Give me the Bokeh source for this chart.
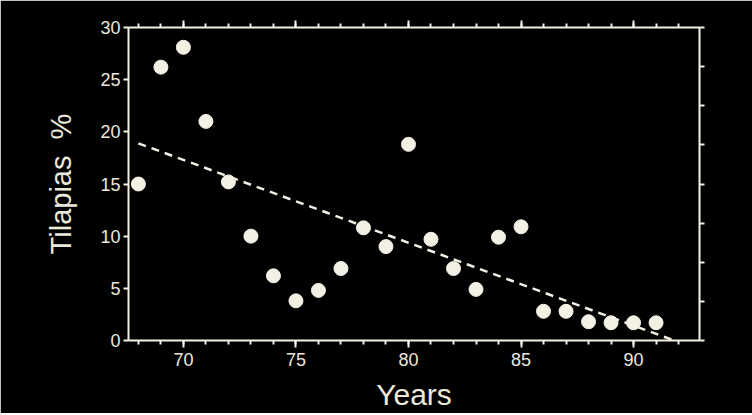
from bokeh.plotting import figure
from bokeh.models import LinearAxis, FixedTicker, Range1d, ColumnDataSource
from bokeh.embed import file_html
from bokeh.resources import INLINE

# ---- data ----
years = [68, 69, 70, 71, 72, 73, 74, 75, 76, 77, 78, 79,
         80, 81, 82, 83, 84, 85, 86, 87, 88, 89, 90, 91]
tilapias_pct = [15.0, 26.2, 28.1, 21.0, 15.2, 10.0, 6.2, 3.8, 4.8, 6.9, 10.8, 9.0,
                18.8, 9.7, 6.9, 4.9, 9.9, 10.9, 2.8, 2.8, 1.8, 1.7, 1.7, 1.7]
trend_years = [68, 91.8]
trend_pct = [18.9, 0.0]

x_major = [70, 75, 80, 85, 90]
x_minor = list(range(68, 93))
y_major = [0, 5, 10, 15, 20, 25, 30]
right_ticks = [0, 3.75, 7.5, 11.25, 15, 18.75, 22.5, 26.25, 30]

FG = "#f3f0e4"
TXT = "#ebe8dc"
BG = "#000000"
FONT = "Liberation Sans"

p = figure(frame_width=571, frame_height=313,
           x_range=Range1d(67.56, 92.93), y_range=Range1d(0, 30),
           output_backend="svg", toolbar_location=None,
           x_axis_location=None, y_axis_location=None,
           min_border_left=128, min_border_right=53,
           min_border_top=27, min_border_bottom=72)
p.background_fill_color = BG
p.border_fill_color = BG
p.outline_line_color = None
p.grid.visible = False


def style(ax, major_len, minor_len, labels=True):
    ax.axis_line_color = FG
    ax.axis_line_width = 2
    ax.major_tick_line_color = FG
    ax.major_tick_line_width = 2
    ax.major_tick_out = major_len
    ax.major_tick_in = 0
    ax.minor_tick_line_color = FG
    ax.minor_tick_line_width = 2
    ax.minor_tick_out = minor_len
    ax.minor_tick_in = 0
    if labels:
        ax.major_label_text_color = TXT
        ax.major_label_text_font = FONT
        ax.major_label_text_font_size = "18px"
    else:
        ax.major_label_text_color = None
        ax.major_label_text_font_size = "1px"
    ax.axis_label_text_color = TXT
    ax.axis_label_text_font = FONT
    ax.axis_label_text_font_style = "normal"


bottom = LinearAxis(ticker=FixedTicker(ticks=x_major, minor_ticks=x_minor),
                    axis_label="Years")
style(bottom, 7, 4)
bottom.major_label_standoff = 5
bottom.axis_label_text_font_size = "30px"
bottom.axis_label_standoff = 9
p.add_layout(bottom, "below")

top = LinearAxis(ticker=FixedTicker(ticks=x_major, minor_ticks=x_minor))
style(top, 7, 4, labels=False)
p.add_layout(top, "above")

left = LinearAxis(ticker=FixedTicker(ticks=y_major, minor_ticks=[]),
                  axis_label="Tilapias\u00a0\u00a0%")
style(left, 5, 0)
left.major_label_standoff = 3
left.axis_label_text_font_size = "29px"
left.axis_label_standoff = 20
p.add_layout(left, "left")

right = LinearAxis(ticker=FixedTicker(ticks=right_ticks, minor_ticks=[]))
style(right, 5, 0, labels=False)
p.add_layout(right, "right")

src = ColumnDataSource(data=dict(x=years, y=tilapias_pct))
p.line(trend_years, trend_pct, line_color=FG, line_width=2.5, line_dash="8 6")
p.scatter("x", "y", source=src, size=14, fill_color=FG, line_color=FG)

open("out.html", "w").write(file_html(p, INLINE))
